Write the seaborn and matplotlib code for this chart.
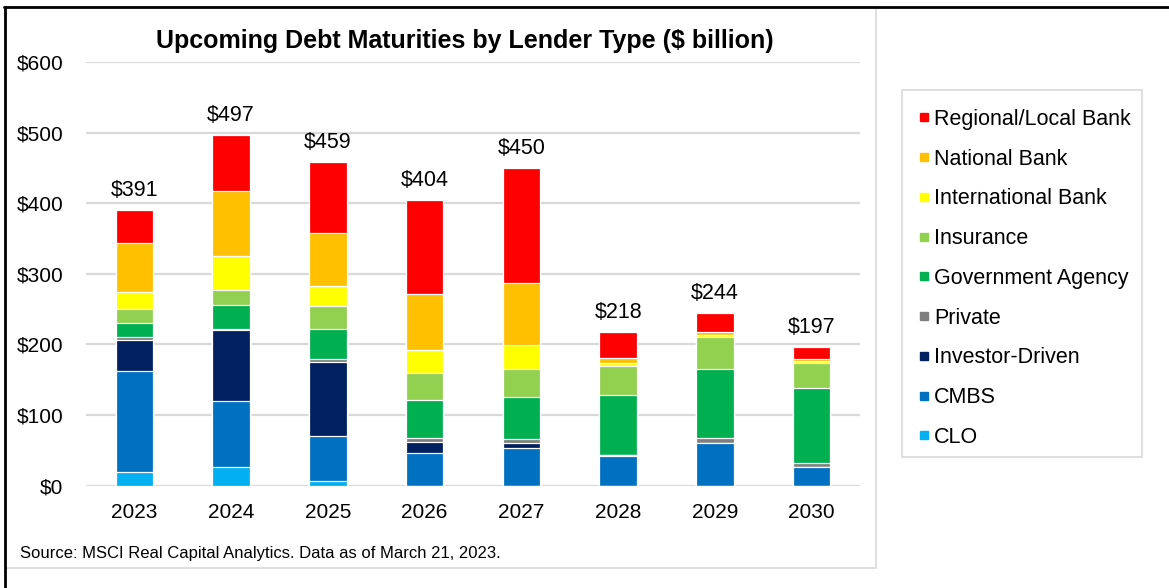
import matplotlib
matplotlib.use("Agg")
import matplotlib.pyplot as plt
from matplotlib.lines import Line2D
from matplotlib.patches import Rectangle
import seaborn as sns

# ---- data ($ billion), stacked bottom -> top ----
years = ["2023", "2024", "2025", "2026", "2027", "2028", "2029", "2030"]
clo = [19, 27, 6, 0, 0, 0, 0, 0]
cmbs = [144, 93, 64, 47, 53, 42, 60, 27]
investor_driven = [44, 101, 105, 15, 8, 1, 0, 0]
private = [3, 1, 4, 6, 5, 1, 7, 5]
government_agency = [20, 34, 43, 54, 59, 84, 98, 106]
insurance = [20, 21, 32, 38, 40, 41, 45, 36]
international_bank = [25, 48, 29, 32, 34, 5, 3, 3]
national_bank = [68, 92, 75, 79, 88, 7, 5, 2]
regional_bank = [48, 80, 101, 133, 163, 37, 26, 18]

series_names = ["CLO", "CMBS", "Investor-Driven", "Private", "Government Agency",
                "Insurance", "International Bank", "National Bank", "Regional/Local Bank"]
series_values = [clo, cmbs, investor_driven, private, government_agency,
                 insurance, international_bank, national_bank, regional_bank]
series_colors = ["#00B0F0", "#0070C0", "#002060", "#7F7F7F", "#00B050",
                 "#92D050", "#FFFF00", "#FFC000", "#FF0000"]

sns.set_style("white")
plt.rcParams["font.family"] = ["Liberation Sans", "DejaVu Sans"]
plt.rcParams["text.color"] = "#000000"

W, H = 1169, 588
fig = plt.figure(figsize=(W / 100, H / 100), dpi=100)

def fx(px):
    return px / W

def fy(py):
    return 1 - py / H

# chart-area frame and outer border
fig.add_artist(Rectangle((fx(5), fy(568)), fx(876) - fx(5), fy(7) - fy(568),
                         transform=fig.transFigure, fill=False,
                         edgecolor="#D9D9D9", linewidth=1.2))
fig.add_artist(Line2D([fx(4), 1.0], [fy(7), fy(7)], transform=fig.transFigure,
                      color="black", linewidth=2.0))
fig.add_artist(Line2D([fx(5), fx(5)], [0, fy(7)], transform=fig.transFigure,
                      color="black", linewidth=2.0))

ax = fig.add_axes([fx(86), fy(485.7), fx(860) - fx(86), fy(62) - fy(485.7)])

# cumulative totals, drawn from the top layer down so each overlays the one above
cums = []
running = [0] * len(years)
for vals in series_values:
    running = [r + v for r, v in zip(running, vals)]
    cums.append(list(running))

for name, cum, col in reversed(list(zip(series_names, cums, series_colors))):
    sns.barplot(x=years, y=cum, color=col, saturation=1, width=0.39,
                edgecolor="white", linewidth=0.9, errorbar=None, ax=ax, zorder=3)

totals = cums[-1]
ax.bar_label(ax.containers[0], labels=[f"${t}" for t in totals],
             padding=6.5, fontsize=15.5, color="#000000")

ax.set_ylim(0, 600)
ax.set_xlim(-0.5, len(years) - 0.5)
ax.set_yticks(range(0, 601, 100))
ax.set_yticklabels([f"${v}" for v in range(0, 601, 100)])
ax.yaxis.grid(True, color="#D9D9D9", linewidth=1.6, zorder=0)
ax.xaxis.grid(False)
ax.set_axisbelow(True)
for s in ax.spines.values():
    s.set_visible(False)
ax.tick_params(axis="y", length=0, pad=16.5, labelsize=15, labelcolor="#000000")
ax.tick_params(axis="x", length=0, pad=12.5, labelsize=15, labelcolor="#000000")
ax.set_xlabel("")
ax.set_ylabel("")
ax.set_facecolor("none")

fig.text(fx(464.5), fy(48), "Upcoming Debt Maturities by Lender Type ($ billion)",
         ha="center", va="baseline", fontsize=18, fontweight="bold", color="#000000")
fig.text(fx(20), fy(558), "Source: MSCI Real Capital Analytics. Data as of March 21, 2023.",
         ha="left", va="baseline", fontsize=12, color="#000000")

# legend box and entries (top layer first)
fig.add_artist(Rectangle((fx(902), fy(457)), fx(1142) - fx(902), fy(90) - fy(457),
                         transform=fig.transFigure, fill=False,
                         edgecolor="#D9D9D9", linewidth=1.2))
handles = [Line2D([], [], linestyle="none", marker="s", markersize=6.2,
                  markerfacecolor=c, markeredgecolor=c)
           for c in reversed(series_colors)]
fig.legend(handles, list(reversed(series_names)), loc="upper left",
           bbox_to_anchor=(fx(918.6), fy(109)), bbox_transform=fig.transFigure,
           frameon=False, borderpad=0, borderaxespad=0, handlelength=0.5,
           handletextpad=0.21, labelspacing=0.87,
           prop={"family": ["Liberation Sans", "DejaVu Sans"], "size": 15.5})

fig.savefig("out.png", dpi=100)
